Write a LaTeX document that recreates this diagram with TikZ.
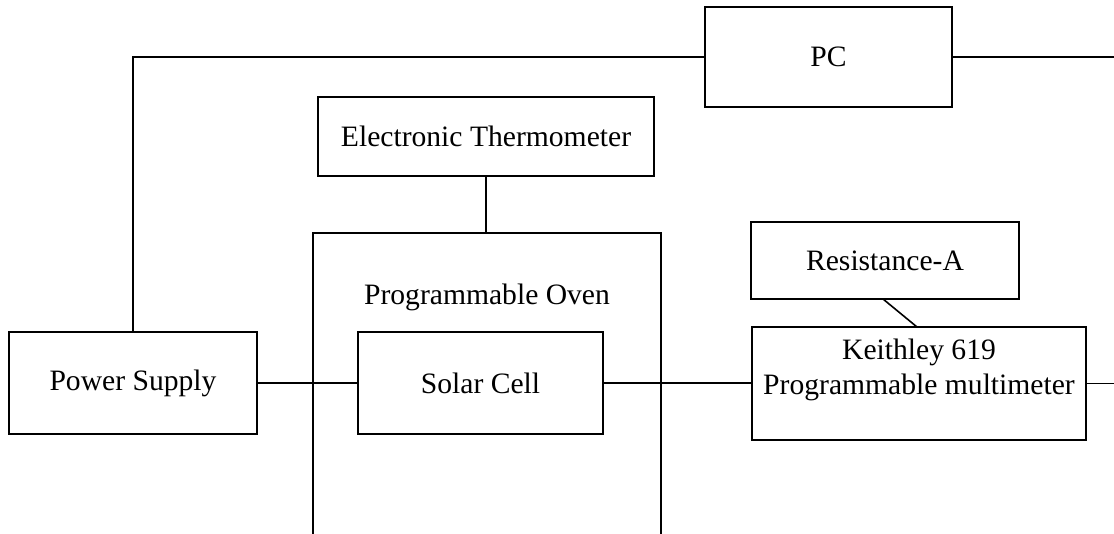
\documentclass[tikz,border=0pt]{standalone}
\usepackage{fontspec}
\setmainfont{Liberation Serif}
\usepackage{tikz}
\usetikzlibrary{positioning,calc}

\begin{document}
\begin{tikzpicture}[x=0.5pt, y=-0.5pt, line width=0.8pt,
  every node/.style={font=\fontsize{14.8}{17.5}\selectfont, inner sep=0pt, outer sep=0pt},
  box/.style={draw, rectangle}]
  \clip (0,0) rectangle (1114,534);
  % blocks
  \node[box, minimum width=123.5pt, minimum height=50pt] (pc) at (828.5,57) {PC};
  \node[box, minimum width=168pt, minimum height=39.5pt] (therm) at (486,136.5) {Electronic Thermometer};
  \node[box, minimum width=174pt, minimum height=170pt, anchor=north] (oven) at (487,233) {};
  \node (ovenlbl) at (487,297) {Programmable Oven};
  \node[box, minimum width=124pt, minimum height=51pt] (ps) at (133,383) {Power Supply};
  \node[box, minimum width=122.5pt, minimum height=51pt] (solar) at (480.5,383) {Solar Cell};
  \node[box, minimum width=134pt, minimum height=38.5pt] (resA) at (885,260.5) {Resistance-A};
  \node[box, minimum width=167pt, minimum height=56.5pt] (mm) at (919,383.5) {};
  \node[align=center] (mmlbl) at (919,370) {Keithley 619\\Programmable multimeter};
  \coordinate (pcR) at (1114,57);
  \coordinate (mmR) at (1114,383.5);
  % wiring
  \draw (pc.west) -| (ps.north);
  \draw (pc.east) -- (pcR);
  \draw (therm.south) -- (therm.south |- oven.north);
  \draw (ps.east) -- (solar.west);
  \draw (solar.east) -- (solar.east -| mm.west);
  \draw ([xshift=-1pt]resA.south) -- ([xshift=-1pt]mm.north);
  \draw (mm.east) -- (mmR);
\end{tikzpicture}
\end{document}
